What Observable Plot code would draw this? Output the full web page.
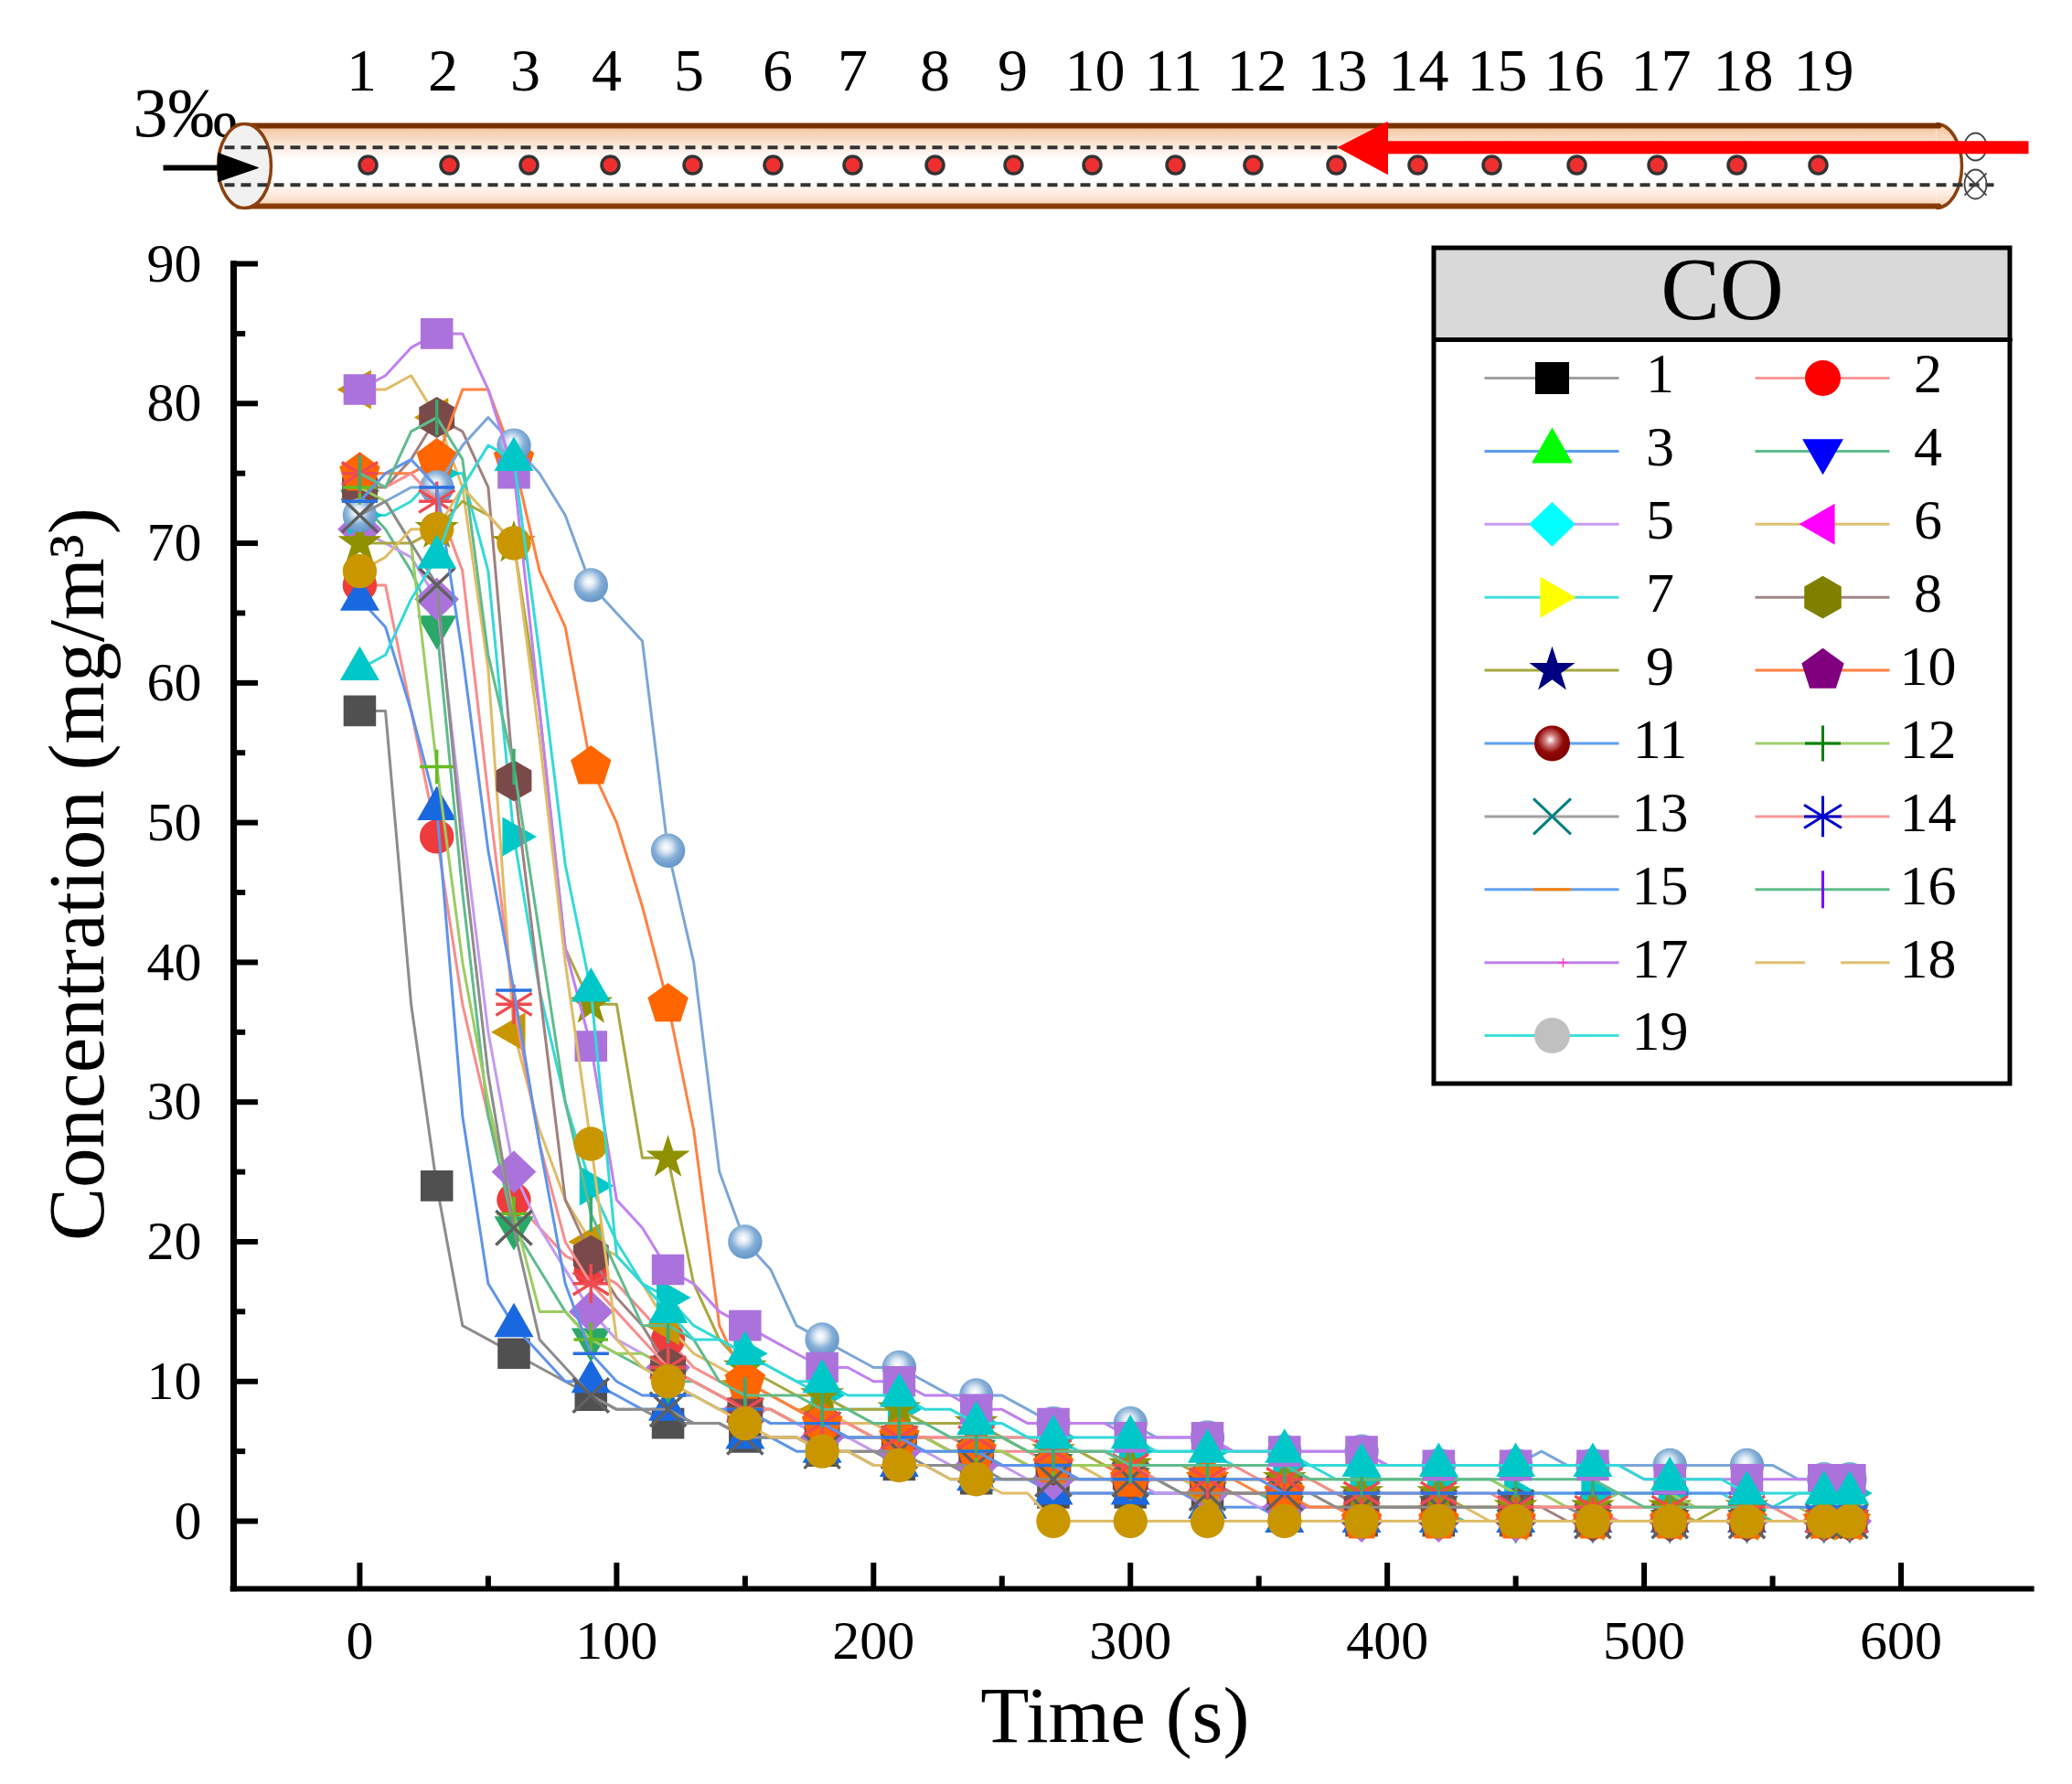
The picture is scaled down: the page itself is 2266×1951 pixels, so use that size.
<!DOCTYPE html>
<html><head><meta charset="utf-8">
<script src="https://cdn.jsdelivr.net/npm/d3@7"></script>
<script src="https://cdn.jsdelivr.net/npm/@observablehq/plot@0.6"></script>
<style>
html,body{margin:0;padding:0;background:#fff}
#fig{position:relative;width:2266px;height:1951px;overflow:hidden}
#fig svg{position:absolute;background:transparent;overflow:visible}
</style></head><body><div id="fig"></div>
<script>
// time in seconds, sampled every 10 s
const times=[0,10,20,30,40,50,60,70,80,90,100,110,120,130,140,150,160,170,180,190,200,210,220,230,240,250,260,270,280,290,300,310,320,330,340,350,360,370,380,390,400,410,420,430,440,450,460,470,480,490,500,510,520,530,540,550,560,570,580];
const co1=[58,58,37,24,14,13,12,11,10,9,8,8,7,7,7,6,6,6,5,5,5,4,4,4,3,3,3,2,2,2,2,2,2,2,2,2,1,1,1,0,0,0,0,0,0,0,0,0,0,0,0,0,0,0,0,0,0,0,0];
const co2=[67,67,58,49,37,29,23,21,19,18,17,15,13,11,10,10,9,8,7,7,7,6,6,6,5,5,5,4,4,4,3,3,3,3,3,3,2,2,2,1,1,1,1,1,1,1,1,1,1,0,0,0,0,0,0,0,0,0,0];
const co3=[66,64,58,51,29,17,14,12,10,10,9,8,8,7,7,6,6,5,5,5,4,4,4,3,3,3,3,2,2,2,2,2,2,1,1,1,0,0,0,0,0,0,0,0,0,0,0,0,0,0,0,0,0,0,0,0,0,0,0];
const co4=[73,71,68,64,45,29,21,18,15,13,12,11,10,10,9,8,8,7,7,6,6,6,5,5,5,4,4,4,3,3,3,3,2,2,2,2,1,1,1,1,1,1,1,0,0,0,0,0,0,0,0,0,0,0,0,0,0,0,0];
const co5=[71,70,69,66,50,35,25,21,18,15,13,12,11,10,9,8,7,7,6,6,5,5,5,4,4,4,3,3,3,3,3,2,2,2,2,1,1,1,1,0,0,0,0,0,0,0,0,0,0,0,0,0,0,0,0,0,0,0,0];
const co6=[81,81,82,79,74,61,35,28,23,20,19,17,14,12,11,10,9,8,8,7,7,6,6,5,5,5,4,4,4,3,3,3,3,2,2,2,2,2,1,1,1,1,1,1,0,0,0,0,0,0,0,0,0,0,0,0,0,0,0];
const co7=[72,72,73,75,75,68,49,38,30,24,20,17,16,14,13,12,11,10,9,8,8,8,7,7,7,6,6,6,5,5,5,5,5,5,4,4,4,4,3,3,3,3,3,3,3,2,2,2,2,2,2,2,2,2,1,1,2,2,2];
const co8=[74,74,76,79,78,74,53,38,23,19,16,14,11,10,9,8,8,7,7,6,6,6,6,5,5,4,4,4,4,4,3,3,3,3,2,2,2,2,2,1,1,1,1,1,1,1,1,0,0,0,0,0,0,0,0,0,0,0,0];
const co9=[70,70,70,71,73,72,70,58,41,37,37,26,26,17,13,11,10,9,9,8,8,8,7,7,7,6,5,5,5,4,4,4,4,3,3,3,3,3,2,2,2,2,2,1,1,1,1,1,1,1,1,1,0,1,1,1,0,0,0];
const co10=[75,75,75,76,81,81,76,68,64,54,50,44,37,28,14,10,9,8,7,7,6,6,6,5,5,5,4,4,4,4,3,3,3,3,3,2,2,1,1,0,0,0,0,0,0,0,0,0,0,0,0,0,0,0,0,0,0,0,0];
const co11=[72,73,74,74,77,79,77,75,72,67,65,63,48,40,25,20,18,14,13,12,11,11,10,9,9,9,8,7,7,7,7,6,6,6,5,5,5,5,5,5,4,4,4,4,4,4,5,4,4,4,4,4,4,4,4,4,3,3,3];
const co12=[74,73,70,54,40,30,22,15,15,13,12,12,11,10,9,8,8,7,7,7,6,6,6,5,5,5,4,4,4,4,4,3,3,3,3,3,3,3,3,3,3,3,3,3,3,2,2,1,1,2,2,2,1,1,1,1,1,0,0];
const co13=[72,73,70,67,48,32,21,13,11,9,8,8,8,7,7,6,6,6,5,5,5,5,4,4,4,3,3,3,3,3,3,3,2,2,2,2,2,2,1,1,1,1,1,1,1,1,1,1,0,0,0,0,0,0,0,0,0,0,0];
const co14=[75,74,75,73,68,52,37,27,20,17,15,13,11,10,9,8,8,7,7,7,6,6,6,6,6,6,6,5,5,5,4,3,3,3,4,3,3,3,2,2,2,2,2,2,2,1,1,1,1,1,1,1,1,1,1,1,0,0,0];
const co15=[73,75,76,74,62,48,38,27,17,12,10,9,9,9,8,8,7,7,7,6,6,6,5,5,5,4,4,4,3,3,3,3,3,3,3,3,2,2,2,2,2,2,2,2,2,2,2,2,2,2,2,2,2,2,2,1,1,1,1];
const co16=[75,74,78,79,76,62,54,42,30,22,18,14,14,13,10,9,9,9,8,8,7,7,7,6,6,6,5,5,5,5,4,4,4,4,4,4,4,3,3,3,3,3,3,3,3,3,3,3,3,2,1,1,1,1,1,0,0,0,0];
const co17=[81,82,84,85,85,81,75,58,41,34,23,21,18,17,15,14,13,12,11,11,10,10,9,9,8,8,7,7,7,7,6,6,6,6,5,5,5,5,5,5,4,4,4,4,4,4,4,4,4,4,3,3,3,3,3,3,3,3,3];
const co18=[68,69,71,71,74,72,70,56,40,27,13,11,10,9,8,7,6,6,5,5,4,4,4,3,3,2,2,0,0,0,0,0,0,0,0,0,0,0,0,0,0,0,0,0,0,0,0,0,0,0,0,0,0,0,0,0,0,0,0];
const co19=[61,62,66,69,74,77,76,62,47,38,19,17,15,13,13,12,11,10,10,9,9,9,8,8,7,7,6,6,6,6,6,5,5,5,5,5,5,4,4,4,4,4,4,4,4,4,4,4,4,4,3,3,3,3,2,2,2,2,2];
const seriesValues=[co1,co2,co3,co4,co5,co6,co7,co8,co9,co10,co11,co12,co13,co14,co15,co16,co17,co18,co19];
const seriesNames=["1","2","3","4","5","6","7","8","9","10","11","12","13","14","15","16","17","18","19"];
const xTickLabels=[0,100,200,300,400,500,600];
const xMinorTicks=[50,150,250,350,450,550];
const yTickLabels=[0,10,20,30,40,50,60,70,80,90];
const yMinorTicks=[5,15,25,35,45,55,65,75,85];
const lineColors=["#8c8c8c","#f98c8c","#5e94ea","#60bb8c","#c49af0","#e0bc66","#33d9d9","#a08080","#a8a840","#ff8040","#7ba6d8","#9ccc60","#8c8c8c","#f98c8c","#5e94ea","#60bb8c","#c080f0","#e0bc66","#33d9d9"];
const markerColors=["#505050","#ef3b3b","#1a68e0","#2aa868","#ab72dc","#c99600","#00c8c8","#7a4a4a","#8f9100","#ff6600","url(#ballBlue)","#66bb22","#606060","#ef4a50","#2a70e0","#3aaa70","#ab72dc","#c99600","#00c8c8"];
const legendLineColors=["#a0a0a0","#f99a9a","#5e9af0","#60bb8c","#c89af0","#e0c070","#40e0e0","#a08888","#a8a840","#ff8040","#60a0f0","#a0d070","#a0a0a0","#f99a9a","#60a0f0","#60bb8c","#c080f0","#e0c070","#40e0e0"];
const legendColors=["#000000","#ff0000","#00ff00","#0000ff","#00ffff","#ff00ff","#ffff00","#808000","#000080","#800080","url(#ballRed)","#008000","#008080","#0000cc","#ff8000","#8000ff","#ff40c0","#ffffff","#c0c0c0"];
const sensorX=[402,491,578,667,757,845,932,1022,1108,1194,1285,1370,1461,1550,1631,1724,1812,1899,1988];
const sensorLabelX=[395,484,574,663,753,850,932,1022,1107,1197,1283,1374,1462,1551,1637,1721,1816,1906,1994];

// marker shapes, in units of the dot radius
const poly=pts=>({draw(c,s){const r=Math.sqrt(s/Math.PI);pts.forEach(([x,y],i)=>i?c.lineTo(x*r,y*r):c.moveTo(x*r,y*r));c.closePath();}});
const strokes=segs=>({draw(c,s){const r=Math.sqrt(s/Math.PI);segs.forEach(([a,b,d,e])=>{c.moveTo(a*r,b*r);c.lineTo(d*r,e*r);});}});
const radial=(n,R,rot,r2)=>d3.range(r2?n*2:n).map(i=>{const a=rot+i*Math.PI*2/(r2?n*2:n);const q=(r2&&i%2)?r2:R;return [q*Math.cos(a),q*Math.sin(a)];});
const up=-Math.PI/2;
const symbols=[
 poly([[-.95,-.9],[.95,-.9],[.95,.9],[-.95,.9]]),
 "circle",
 poly([[0,-1.33],[1.15,.67],[-1.15,.67]]),
 poly([[0,1.33],[1.15,-.67],[-1.15,-.67]]),
 poly([[-1.3,0],[0,-1.25],[1.3,0],[0,1.25]]),
 poly([[-1.33,0],[.67,-1.15],[.67,1.15]]),
 poly([[1.33,0],[-.67,-1.15],[-.67,1.15]]),
 poly(radial(6,1.2,up)),
 poly(radial(5,1.35,up,.52)),
 poly(radial(5,1.25,up)),
 "circle",
 strokes([[-1,0,1,0],[0,-1,0,1]]),
 strokes([[-1.05,-1,1.05,1],[-1.05,1,1.05,-1]]),
 strokes([[0,-1.15,0,1.15],[-1.05,-.65,1.05,.65],[-1.05,.65,1.05,-.65],[-1.05,0,1.05,0]]),
 strokes([[-1.05,0,1.05,0]]),
 strokes([[0,-1.05,0,1.05]]),
 poly([[-.95,-.9],[.95,-.9],[.95,.9],[-.95,.9]]),
 "circle",
 poly([[0,-1.33],[1.15,.67],[-1.15,.67]])
];
const isLineSymbol=i=>i>=11&&i<=15;
const legendSymbols=symbols.slice();
legendSymbols[16]=strokes([[-1,0,1,0],[0,-1,0,1]]);
legendSymbols[17]=strokes([[-1,0,1,0]]);
legendSymbols[18]="circle";

const ball=(id,light,mid,base)=>`<radialGradient id="${id}" cx="45%" cy="40%" r="60%"><stop offset="0" stop-color="#fff"/><stop offset=".25" stop-color="${light}"/><stop offset=".6" stop-color="${mid}"/><stop offset="1" stop-color="${base}"/></radialGradient>`;
const defsMark=()=>{const g=document.createElementNS("http://www.w3.org/2000/svg","defs");
 g.innerHTML=ball("ballBlue","#dfe9f4","#84aed6","#6296c8")+ball("ballRed","#d08080","#900808","#800000")+
 `<linearGradient id="tubeGrad" x1="0" y1="0" x2="0" y2="1"><stop offset="0" stop-color="#f2bf95"/><stop offset=".25" stop-color="#fbe6d6"/><stop offset=".42" stop-color="#ffffff"/><stop offset=".68" stop-color="#ffffff"/><stop offset=".86" stop-color="#fce8da"/><stop offset="1" stop-color="#f6cfae"/></linearGradient>`;
 return g;};

const FONT="'Liberation Serif','Times New Roman',serif";
const fig=document.getElementById("fig");

// ---------- main chart ----------
const marks=[defsMark];
seriesValues.forEach((vals,i)=>{
 const rows=times.map((t,k)=>({t,v:vals[k]}));
 const pts=rows.filter(d=>d.t%30===0||d.t===580);
 marks.push(Plot.line(rows,{x:"t",y:"v",stroke:lineColors[i],strokeWidth:3,curve:"linear"}));
 const line=isLineSymbol(i);
 marks.push(Plot.dot(pts,{x:"t",y:"v",symbol:symbols[i],r:18.7,
   fill:line?"none":markerColors[i],stroke:line?markerColors[i]:"none",strokeWidth:line?3.4:0}));
});
const main=Plot.plot({
 width:2266,height:1951,marginLeft:255,marginRight:47,marginTop:288,marginBottom:214,
 style:{fontFamily:FONT,fontSize:"60px",color:"#000",background:"transparent"},
 x:{domain:[-49.1,650],label:null},
 y:{domain:[-4.84,90],label:null},
 marks:[
  ...marks,
  Plot.axisX({ticks:xTickLabels,tickSize:0,tickPadding:34,fontSize:60,label:null,fill:"#000"}),
  Plot.axisY({ticks:yTickLabels,tickSize:0,tickPadding:35,fontSize:60,label:null,fill:"#000"}),
  Plot.ruleX(xTickLabels,{y1:-4.84,y2:-3,stroke:"#000",strokeWidth:6}),
  Plot.ruleX(xMinorTicks,{y1:-4.84,y2:-3.95,stroke:"#000",strokeWidth:6}),
  Plot.ruleY(yTickLabels,{x1:-49.1,x2:-39.5,stroke:"#000",strokeWidth:6}),
  Plot.ruleY(yMinorTicks,{x1:-49.1,x2:-44.4,stroke:"#000",strokeWidth:6}),
  Plot.ruleX([-49.1],{y1:-5.05,y2:90.2,stroke:"#000",strokeWidth:7}),
  Plot.ruleY([-4.84],{x1:-50.3,x2:652,stroke:"#000",strokeWidth:6}),
  Plot.text(["Time (s)"],{x:()=>294,y:()=>-15.8,text:d=>d,fontSize:87,lineAnchor:"bottom",fill:"#000"}),
  Plot.text(["Concentration (mg/m³)"],{x:()=>-100,y:()=>46.3,text:d=>d,fontSize:87,rotate:-90,lineAnchor:"bottom",fill:"#000"})
 ]
});
main.style.left="0";main.style.top="0";fig.appendChild(main);

// ---------- tube diagram ----------
const ellipse=(rx,ry,half)=>({draw(c){const k=.5523;
 c.moveTo(0,-ry);c.bezierCurveTo(k*rx,-ry,rx,-k*ry,rx,0);c.bezierCurveTo(rx,k*ry,k*rx,ry,0,ry);
 if(!half){c.bezierCurveTo(-k*rx,ry,-rx,k*ry,-rx,0);c.bezierCurveTo(-rx,-k*ry,-k*rx,-ry,0,-ry);c.closePath();}}});
const at=(x,y)=>[{x,y}];
const seg=(a,b,y)=>[{x:a,y},{x:b,y}];
const diagram=Plot.plot({
 width:2266,height:270,margin:0,
 style:{fontFamily:FONT,background:"transparent"},
 x:{domain:[0,2266],axis:null},y:{domain:[270,0],axis:null},
 marks:[
  defsMark,
  Plot.text(["3‰"],{x:()=>145,y:()=>148,text:d=>d,fontSize:76,textAnchor:"start",lineAnchor:"bottom",fill:"#000"}),
  Plot.dot(at(2117,181),{x:"x",y:"y",r:1,symbol:ellipse(28,46,true),fill:"url(#tubeGrad)",stroke:"#8a4010",strokeWidth:3.5}),
  Plot.rect([{a:262,b:2117,c:135,d:227}],{x1:"a",x2:"b",y1:"c",y2:"d",fill:"url(#tubeGrad)"}),
  Plot.line(seg(260,2120,137),{x:"x",y:"y",stroke:"#7a3000",strokeWidth:6}),
  Plot.line(seg(260,2120,225),{x:"x",y:"y",stroke:"#8a3c08",strokeWidth:6}),
  Plot.dot(at(267,181),{x:"x",y:"y",r:1,symbol:ellipse(29,46),fill:"#f1f1f1",stroke:"#8a4010",strokeWidth:3.5}),
  Plot.line(seg(245,2160,160.7),{x:"x",y:"y",stroke:"#333",strokeWidth:4,strokeDasharray:"11,7",strokeLinecap:"butt"}),
  Plot.line(seg(245,2180,201.7),{x:"x",y:"y",stroke:"#333",strokeWidth:4,strokeDasharray:"11,7",strokeLinecap:"butt"}),
  Plot.dot(sensorX,{x:d=>d,y:()=>180,r:9.5,fill:"#ef2f2f",stroke:"#333",strokeWidth:3.5}),
  Plot.line(seg(178,238,183),{x:"x",y:"y",stroke:"#000",strokeWidth:6,strokeLinecap:"butt"}),
  Plot.line([{x:238,y:167},{x:282,y:183},{x:238,y:198},{x:238,y:167}],{x:"x",y:"y",fill:"#000",stroke:"#000",strokeWidth:1}),
  Plot.dot(at(2160,160),{x:"x",y:"y",r:1,symbol:ellipse(12,15),fill:"none",stroke:"#444",strokeWidth:1.8}),
  Plot.dot(at(2160,201),{x:"x",y:"y",r:1,symbol:ellipse(12,16),fill:"none",stroke:"#444",strokeWidth:1.8}),
  Plot.dot(at(2160,201),{x:"x",y:"y",r:11,symbol:"times",stroke:"#444",strokeWidth:1.8}),
  Plot.line(seg(1510,2218,160.7),{x:"x",y:"y",stroke:"#ff0000",strokeWidth:14,strokeLinecap:"butt"}),
  Plot.line([{x:1463,y:160.7},{x:1517,y:133},{x:1517,y:190},{x:1463,y:160.7}],{x:"x",y:"y",fill:"#ff0000",stroke:"#ff0000",strokeWidth:1}),
  Plot.text(seriesNames,{x:(d,i)=>sensorLabelX[i],y:()=>98,text:d=>d,fontSize:66,lineAnchor:"bottom",fill:"#000"})
 ]
});
diagram.style.left="0";diagram.style.top="0";fig.appendChild(diagram);

// ---------- legend ----------
const legendRows=seriesNames.map((name,i)=>({name,i,col:i%2,row:Math.floor(i/2)}));
const markerX=[129,425],lineX=[[55,202],[351,498]],labelX=[247,540];
const rowY=r=>142+r*79.9;
const legendMarks=[defsMark,
 Plot.rect([{a:0,b:630,c:0,d:100}],{x1:"a",x2:"b",y1:"c",y2:"d",fill:"#d9d9d9"}),
 Plot.rect([{a:0,b:630,c:0,d:914}],{x1:"a",x2:"b",y1:"c",y2:"d",fill:"none",stroke:"#000",strokeWidth:5}),
 Plot.line(seg(0,630,100),{x:"x",y:"y",stroke:"#000",strokeWidth:5}),
 Plot.text(["CO"],{x:()=>315,y:()=>46,text:d=>d,fontSize:97,fill:"#000"})
];
legendRows.forEach(d=>{
 const y=rowY(d.row),i=d.i,cx=markerX[d.col];
 legendMarks.push(Plot.line(seg(lineX[d.col][0],lineX[d.col][1],y),{x:"x",y:"y",stroke:legendLineColors[i],strokeWidth:3,strokeLinecap:"butt"}));
 const line=(i>=11&&i<=17);
 const isTiny=i===16;
 legendMarks.push(Plot.dot(at(cx+(isTiny?12:0),y),{x:"x",y:"y",symbol:legendSymbols[i],r:isTiny?5:19.5,
   fill:line?"none":legendColors[i],stroke:line?legendColors[i]:"none",strokeWidth:line?(i===17?6:isTiny?1.5:3):0}));
 legendMarks.push(Plot.text([d.name],{x:()=>labelX[d.col],y:()=>y-4,text:v=>v,fontSize:62,fill:"#000"}));
});
const legend=Plot.plot({
 width:630,height:914,margin:0,
 style:{fontFamily:FONT,background:"transparent"},
 x:{domain:[0,630],axis:null},y:{domain:[914,0],axis:null},
 marks:legendMarks
});
legend.style.left="1568px";legend.style.top="271px";fig.appendChild(legend);
</script></body></html>
